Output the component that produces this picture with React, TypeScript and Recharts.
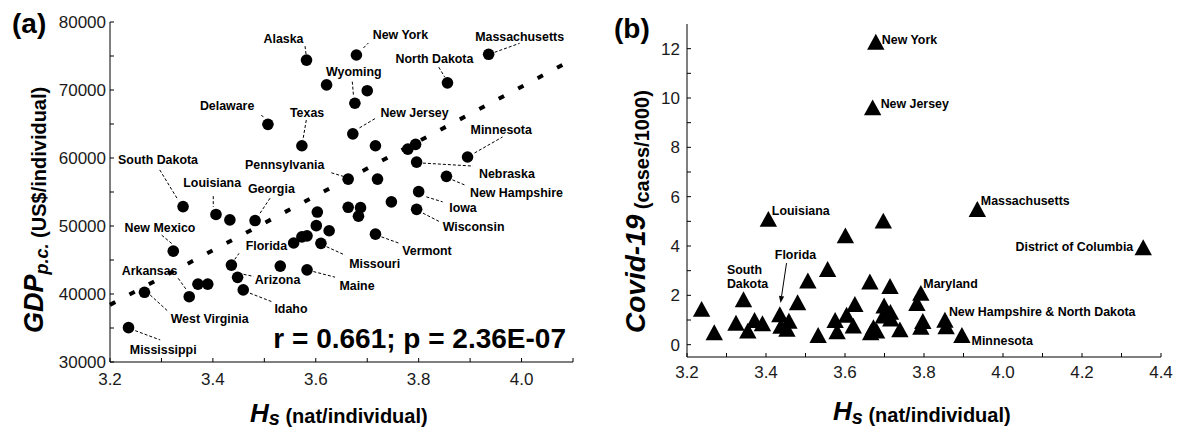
import React from 'react';
import { ScatterChart, Scatter, XAxis, YAxis, ReferenceLine } from 'recharts';

const FONT = '"Liberation Sans", Arial, Helvetica, sans-serif';

// ---------------- Panel (a): GDP p.c. vs Hs ----------------
const gdpStates = [
  'Alaska', 'New York', 'Massachusetts', 'North Dakota', '', '', 'Wyoming', 'New Jersey', 'Texas', '',
  '', '', 'Minnesota', 'Nebraska', 'Pennsylvania', '', 'New Hampshire', 'Iowa', '', '',
  '', '', '', 'Wisconsin', '', '', '', '', '', 'Missouri',
  'Vermont', 'Maine', '', 'South Dakota', 'Louisiana', '', 'Georgia', 'New Mexico', 'Florida', 'Arizona',
  'Idaho', 'Arkansas', '', '', 'West Virginia', 'Mississippi', 'Delaware',
];
const gdpHs = [
  3.582, 3.679, 3.936, 3.856, 3.621, 3.700, 3.676, 3.672, 3.573, 3.716,
  3.779, 3.794, 3.895, 3.796, 3.663, 3.720, 3.854, 3.800, 3.747, 3.663,
  3.687, 3.683, 3.603, 3.796, 3.601, 3.626, 3.557, 3.573, 3.583, 3.610,
  3.716, 3.583, 3.531, 3.342, 3.406, 3.433, 3.482, 3.323, 3.436, 3.448,
  3.459, 3.354, 3.371, 3.390, 3.267, 3.236, 3.507,
];
const gdpValues = [
  74400, 75150, 75250, 71050, 70750, 69900, 68050, 63550, 61800, 61800,
  61300, 62000, 60150, 59400, 56900, 56900, 57300, 55050, 53550, 52750,
  52700, 51450, 52050, 52450, 50050, 49300, 47500, 48400, 48550, 47450,
  48800, 43550, 44100, 52850, 51700, 50900, 50800, 46300, 44250, 42450,
  40600, 39600, 41450, 41450, 40250, 35050, 64950,
];
const gdpXTicks = [3.2, 3.3, 3.4, 3.5, 3.6, 3.7, 3.8, 3.9, 4.0, 4.1];
const gdpXTickLabels = ['3.2', '', '3.4', '', '3.6', '', '3.8', '', '4.0', ''];
const gdpYTicks = [30000, 35000, 40000, 45000, 50000, 55000, 60000, 65000, 70000, 75000, 80000];
const gdpYTickLabels = ['30000', '', '40000', '', '50000', '', '60000', '', '70000', '', '80000'];
const fitHs = [3.2, 4.1];
const fitGdp = [38400, 74500];

// label layout (pixel offsets from the dot): text centre dx, dy, leader x1, y1, x2, y2
const gdpLabelLayout: Record<string, number[]> = {
  'Alaska': [-23, -21, -0.5, -6, -1.5, -14],
  'New York': [44, -20, 7, -7, 12, -12],
  'Massachusetts': [31, -17.6, 6, -2, 31, -11],
  'North Dakota': [-13, -24.4, -8.7, -15.7, -2.7, -5.7],
  'Wyoming': [-1, -31.6, -2.6, -21.6, -1.3, -6.6],
  'New Jersey': [61.7, -21.3, 6.7, -6, 23.4, -16],
  'Texas': [5.2, -33, 4.4, -25.7, 1, -5.7],
  'Delaware': [-40.8, -19, -6.6, -9.3, -3.3, -6],
  'Minnesota': [33.7, -27.7, 7, -4, 35, -20],
  'Nebraska': [90.3, 12, 6.3, 1, 56.3, 4],
  'Pennsylvania': [-63.5, -14, -16.8, -6.3, -3.5, -2.3],
  'New Hampshire': [70, 16.2, 6, 3.5, 18, 8.5],
  'Iowa': [44.3, 15.8, 7.7, 5.2, 24, 10.2],
  'Wisconsin': [57, 17.5, 6.3, 3.8, 23.3, 12.5],
  'Vermont': [51.5, 16, 6, 2.7, 24.3, 9.3],
  'Missouri': [53.7, 20, 5.7, 3.4, 24, 11.7],
  'Maine': [50, 16, 6.3, 1.7, 28, 7.3],
  'Arizona': [40, 2.7, 6, -3, 16, -1],
  'Idaho': [47.7, 19, 6.7, 3.3, 28.4, 11.7],
  'Florida': [35, -19.3, 3.3, -5.7, 7.6, -11.7],
  'Georgia': [16.3, -32.4, 15, -22.4, 5, -7.4],
  'Louisiana': [-3.8, -31.6, -2.7, -18.3, -2.7, -7.6],
  'South Dakota': [-25, -46.7, -23.3, -36.7, -5, -6.7],
  'New Mexico': [-13.3, -23.3, -11.6, -16, -1.6, -7.7],
  'Arkansas': [-39.6, -26, -11, -18.4, -2.6, -6.7],
  'West Virginia': [65.2, 26, 5.7, 2.7, 24, 19.4],
  'Mississippi': [34.7, 22.3, 6.7, 3, 31.7, 12.3],
};

// ---------------- Panel (b): Covid-19 vs Hs ----------------
const covidStates = [
  'New York', 'New Jersey', 'Louisiana', 'Massachusetts', 'District of Columbia', '', '', '', '', '',
  '', 'Maryland', '', 'South Dakota', '', '', '', '', '', '',
  'Florida', '', '', '', '', '', '', '', '', '',
  '', '', '', '', '', '', '', '', '', '',
  '', 'New Hampshire & North Dakota', '', 'Minnesota',
];
const covidHs = [
  3.678, 3.670, 3.406, 3.935, 4.355, 3.697, 3.601, 3.556, 3.506, 3.663,
  3.714, 3.792, 3.782, 3.343, 3.237, 3.269, 3.324, 3.354, 3.371, 3.391,
  3.435, 3.438, 3.458, 3.453, 3.480, 3.532, 3.575, 3.580, 3.604, 3.621,
  3.625, 3.699, 3.697, 3.716, 3.715, 3.672, 3.665, 3.680, 3.739, 3.797,
  3.792, 3.853, 3.856, 3.896,
];
const covidCases = [
  12.25, 9.59, 5.07, 5.47, 3.92, 5.00, 4.40, 3.04, 2.57, 2.53,
  2.35, 2.07, 1.66, 1.81, 1.42, 0.47, 0.86, 0.54, 0.97, 0.84,
  1.20, 0.73, 0.94, 0.61, 1.69, 0.36, 0.97, 0.51, 1.18, 0.74,
  1.62, 1.56, 1.15, 1.03, 1.30, 0.68, 0.47, 0.54, 0.59, 0.93,
  0.69, 0.98, 0.71, 0.36,
];
const covidXTicks = [3.2, 3.3, 3.4, 3.5, 3.6, 3.7, 3.8, 3.9, 4.0, 4.1, 4.2, 4.3, 4.4];
const covidXTickLabels = ['3.2', '', '3.4', '', '3.6', '', '3.8', '', '4.0', '', '4.2', '', '4.4'];
const covidYTicks = [0, 1, 2, 3, 4, 5, 6, 7, 8, 9, 10, 11, 12];
const covidYTickLabels = ['0', '', '2', '', '4', '', '6', '', '8', '', '10', '', '12'];

// label layout (pixel offsets from the triangle): text x, baseline y, anchor
const covidLabelLayout: Record<string, [number, number, string]> = {
  'New York': [6, 1, 'start'],
  'New Jersey': [8, 0, 'start'],
  'Louisiana': [3.5, -5, 'start'],
  'Massachusetts': [3.5, -5, 'start'],
  'District of Columbia': [-10, 3, 'end'],
  'Maryland': [2.5, -6, 'start'],
  'New Hampshire & North Dakota': [4, -4.7, 'start'],
  'Minnesota': [9.7, 9.7, 'start'],
};

const gdpData = gdpStates.map((name, i) => ({ name, h: gdpHs[i], v: gdpValues[i] }));
const covidData = covidStates.map((name, i) => ({ name, h: covidHs[i], v: covidCases[i] }));

const tickStyle = { fill: '#1a1a1a', fontSize: 17, fontFamily: FONT };
const labelText = { fontFamily: FONT, fontWeight: 700, fontSize: 12.4, fill: '#000' } as const;

function Dot(props: any) {
  const { cx, cy } = props;
  if (cx == null || cy == null) return <g />;
  return <circle cx={cx} cy={cy} r={5.8} fill="#000" />;
}

function Tri(props: any) {
  const { cx, cy } = props;
  if (cx == null || cy == null) return <g />;
  return <polygon points={`${cx},${cy - 8.7} ${cx - 8.7},${cy + 7.2} ${cx + 8.7},${cy + 7.2}`} fill="#000" />;
}

function GdpLabel(props: any) {
  const { cx, cy, payload } = props;
  const a = payload && gdpLabelLayout[payload.name];
  if (!a || cx == null) return <g />;
  return (
    <g>
      <line x1={cx + a[2]} y1={cy + a[3]} x2={cx + a[4]} y2={cy + a[5]} stroke="#000" strokeWidth={1} strokeDasharray="3 2" />
      <text x={cx + a[0]} y={cy + a[1] + 4.4} textAnchor="middle" style={labelText}>{payload.name}</text>
    </g>
  );
}

function CovidLabel(props: any) {
  const { cx, cy, payload } = props;
  if (!payload || cx == null) return <g />;
  const name = payload.name;
  if (name === 'South Dakota') {
    return (
      <g>
        <text x={cx - 16.6} y={cy - 26} style={labelText}>South</text>
        <text x={cx - 16.6} y={cy - 12} style={labelText}>Dakota</text>
      </g>
    );
  }
  if (name === 'Florida') {
    const x1 = cx + 6.7, y1 = cy - 52, x2 = cx + 0.7, y2 = cy - 12;
    const ang = Math.atan2(y2 - y1, x2 - x1);
    const L = 7, W = 2.6;
    const bx = x2 - L * Math.cos(ang), by = y2 - L * Math.sin(ang);
    const px = -Math.sin(ang) * W, py = Math.cos(ang) * W;
    return (
      <g>
        <text x={cx - 5} y={cy - 56.5} style={labelText}>Florida</text>
        <line x1={x1} y1={y1} x2={bx} y2={by} stroke="#000" strokeWidth={1} />
        <polygon points={`${x2},${y2} ${bx + px},${by + py} ${bx - px},${by - py}`} fill="#000" />
      </g>
    );
  }
  const a = covidLabelLayout[name];
  if (!a) return <g />;
  return (
    <text x={cx + a[0]} y={cy + a[1]} textAnchor={a[2] as any} style={labelText}>{name}</text>
  );
}

export default function App() {
  return (
    <div style={{ position: 'absolute', left: 0, top: 0, width: 1183, height: 431, background: '#fff', overflow: 'hidden' }}>
      <div style={{ position: 'absolute', left: 0, top: 0 }}>
        <ScatterChart width={590} height={431} margin={{ top: 22, right: 17, bottom: 39, left: 0 }}>
          <XAxis
            dataKey="h" type="number" domain={[3.2, 4.1]} ticks={gdpXTicks} interval={0} allowDataOverflow
            tickFormatter={(v: any, i: number) => gdpXTickLabels[i]} height={30}
            tickSize={-4} tickMargin={15} tick={tickStyle}
            axisLine={{ stroke: '#000', strokeWidth: 1 }} tickLine={{ stroke: '#000' }}
          />
          <YAxis
            dataKey="v" type="number" domain={[30000, 80000]} ticks={gdpYTicks} interval={0} allowDataOverflow
            tickFormatter={(v: any, i: number) => gdpYTickLabels[i]} width={110}
            tickSize={-4} tickMargin={8} tick={tickStyle}
            axisLine={{ stroke: '#000', strokeWidth: 1 }} tickLine={{ stroke: '#000' }}
          />
          <XAxis xAxisId="top" orientation="top" type="number" domain={[3.2, 4.1]} height={0} tick={false} tickLine={false} axisLine={{ stroke: '#000' }} />
          <YAxis yAxisId="right" orientation="right" type="number" domain={[30000, 80000]} width={0} tick={false} tickLine={false} axisLine={{ stroke: '#7a7a7a', strokeWidth: 1.6 }} />
          <ReferenceLine
            segment={[{ x: fitHs[0], y: fitGdp[0] }, { x: fitHs[1], y: fitGdp[1] }]}
            stroke="#000" strokeWidth={4} strokeDasharray="6 16" ifOverflow="visible"
          />
          <Scatter data={gdpData.filter((d) => d.name !== '')} shape={GdpLabel} isAnimationActive={false} />
          <Scatter data={gdpData} shape={Dot} isAnimationActive={false} />
        </ScatterChart>
      </div>
      <div style={{ position: 'absolute', left: 600, top: 0 }}>
        <ScatterChart width={583} height={431} margin={{ top: 24, right: 22, bottom: 44, left: 0 }}>
          <XAxis
            dataKey="h" type="number" domain={[3.2, 4.4]} ticks={covidXTicks} interval={0} allowDataOverflow
            tickFormatter={(v: any, i: number) => covidXTickLabels[i]} height={30}
            tickSize={-4} tickMargin={13} tick={tickStyle}
            axisLine={{ stroke: '#000', strokeWidth: 1 }} tickLine={{ stroke: '#000' }}
          />
          <YAxis
            dataKey="v" type="number" domain={[-0.5, 13]} ticks={covidYTicks} interval={0} allowDataOverflow
            tickFormatter={(v: any, i: number) => covidYTickLabels[i]} width={87}
            tickSize={-4} tickMargin={11} tick={tickStyle}
            axisLine={{ stroke: '#000', strokeWidth: 1 }} tickLine={{ stroke: '#000' }}
          />
          <XAxis xAxisId="top" orientation="top" type="number" domain={[3.2, 4.4]} height={0} tick={false} tickLine={false} axisLine={{ stroke: '#000' }} />
          <YAxis yAxisId="right" orientation="right" type="number" domain={[-0.5, 13]} width={0} tick={false} tickLine={false} axisLine={{ stroke: '#7a7a7a', strokeWidth: 1.6 }} />
          <Scatter data={covidData} shape={Tri} isAnimationActive={false} />
          <Scatter data={covidData.filter((d) => d.name !== '')} shape={CovidLabel} isAnimationActive={false} />
        </ScatterChart>
      </div>
      <svg width={1183} height={431} style={{ position: 'absolute', left: 0, top: 0, pointerEvents: 'none' }}>
        <g style={{ fontFamily: FONT, fill: '#000' }}>
          <text x={12} y={33} fontSize={28} fontWeight={700}>(a)</text>
          <text x={614} y={38} fontSize={28} fontWeight={700}>(b)</text>
          <text x={566} y={348} fontSize={28} fontWeight={700} textAnchor="end">r = 0.661; p = 2.36E-07</text>
          {/* x-axis titles */}
          <text x={250} y={421.5} fontWeight={700}>
            <tspan fontSize={26} fontStyle="italic">H</tspan>
            <tspan fontSize={20} fontStyle="italic" dy={3.5}>s</tspan>
            <tspan fontSize={20} dy={-2}> (nat/individual)</tspan>
          </text>
          <text x={833} y={420} fontWeight={700}>
            <tspan fontSize={26} fontStyle="italic">H</tspan>
            <tspan fontSize={20} fontStyle="italic" dy={3.5}>s</tspan>
            <tspan fontSize={20} dy={-2}> (nat/individual)</tspan>
          </text>
          {/* y-axis titles */}
          <text transform="translate(43,333) rotate(-90)" fontWeight={700}>
            <tspan fontSize={27} fontStyle="italic">GDP</tspan>
            <tspan fontSize={18} fontStyle="italic" dy={5}>p.c.</tspan>
            <tspan fontSize={20} dy={-2}> (US$/individual)</tspan>
          </text>
          <text transform="translate(645,333) rotate(-90)" fontWeight={700}>
            <tspan fontSize={28} fontStyle="italic">Covid-19</tspan>
            <tspan fontSize={20} dy={4}> (cases/1000)</tspan>
          </text>
        </g>
      </svg>
    </div>
  );
}
